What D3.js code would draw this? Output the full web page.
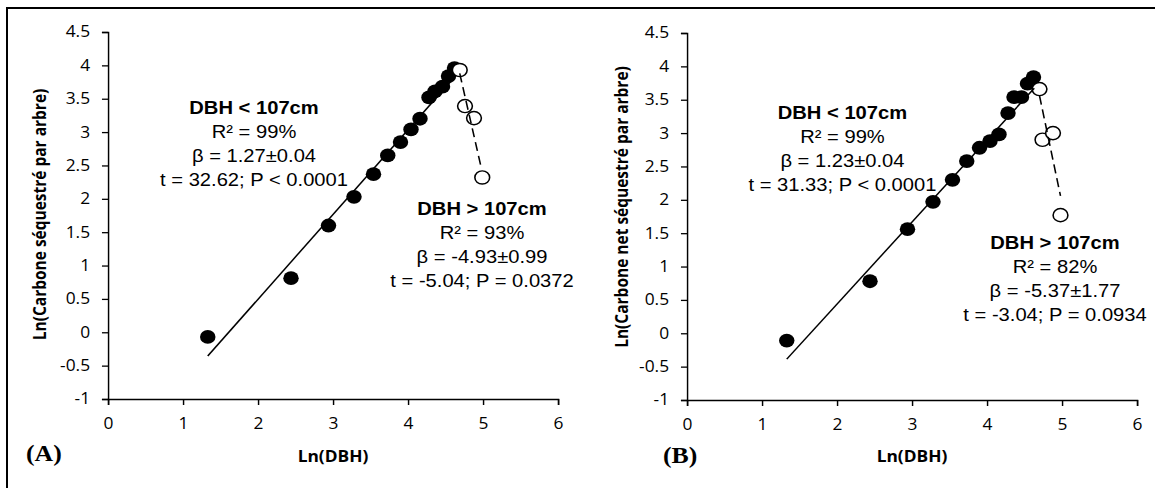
<!DOCTYPE html>
<html>
<head>
<meta charset="utf-8">
<script src="https://cdn.jsdelivr.net/npm/d3@7"></script>
<style>
  html, body { margin: 0; padding: 0; background: #fff; }
  svg { display: block; }
</style>
</head>
<body>
<svg id="chart" width="1155" height="488"></svg>
<script>
// ---------------- data ----------------
const xTicks = [0, 1, 2, 3, 4, 5, 6];
const yTicks = [-1, -0.5, 0, 0.5, 1, 1.5, 2, 2.5, 3, 3.5, 4, 4.5];

const lnDbhSmall   = [1.33, 2.44, 2.94, 3.28, 3.54, 3.73, 3.90, 4.04, 4.16, 4.28, 4.36, 4.46, 4.54, 4.62];
const carbonSmallA = [-0.07, 0.81, 1.60, 2.03, 2.37, 2.65, 2.85, 3.04, 3.20, 3.52, 3.61, 3.68, 3.84, 3.96];
const carbonSmallB = [-0.11, 0.78, 1.56, 1.97, 2.30, 2.58, 2.78, 2.88, 2.98, 3.30, 3.54, 3.54, 3.74, 3.84];

const lnDbhLargeA  = [4.69, 4.76, 4.88, 4.99];
const carbonLargeA = [3.93, 3.39, 3.21, 2.32];
const lnDbhLargeB  = [4.70, 4.74, 4.88, 4.98];
const carbonLargeB = [3.66, 2.90, 3.00, 1.77];

// fitted lines: [intercept, slope], x-range
const fitSmallA = [-2.045, 1.27];
const fitLargeA = [27.0, -4.93];
const fitSmallB = [-2.023, 1.23];
const fitLargeB = [28.8, -5.37];
const rangeSmallA = [1.33, 4.62];
const rangeLargeA = [4.69, 4.98];
const rangeSmallB = [1.33, 4.63];
const rangeLargeB = [4.70, 4.98];

const statsA1 = ["DBH < 107cm", "R² = 99%", "β = 1.27±0.04", "t = 32.62; P < 0.0001"];
const statsA2 = ["DBH > 107cm", "R² = 93%", "β = -4.93±0.99", "t = -5.04; P = 0.0372"];
const statsB1 = ["DBH < 107cm", "R² = 99%", "β = 1.23±0.04", "t = 31.33; P < 0.0001"];
const statsB2 = ["DBH > 107cm", "R² = 82%", "β = -5.37±1.77", "t = -3.04; P = 0.0934"];

const yTitleA = "Ln(Carbone séquestré par arbre)";
const yTitleB = "Ln(Carbone net séquestré par arbre)";
const xTitle = "Ln(DBH)";

// ---------------- layout ----------------
const SX = 1.12; // horizontal stretch of the original figure
const svg = d3.select("#chart");
svg.append("rect").attr("width", 1155).attr("height", 488).attr("fill", "#fff");
svg.append("path").attr("d", "M7,488V8H1155").attr("fill", "none")
  .attr("stroke", "#000").attr("stroke-width", 2);

const root = svg.append("g").attr("transform", `scale(${SX},1)`);

const panels = [
  { tag: "(A)", left: 108, right: 558, top: 32, bottom: 399,
    small: carbonSmallA, xLarge: lnDbhLargeA, large: carbonLargeA,
    fitS: fitSmallA, fitL: fitLargeA, rS: rangeSmallA, rL: rangeLargeA,
    s1: statsA1, s2: statsA2, s1pos: [1.947, 3.273], s2pos: [4.987, 1.759],
    yTitle: yTitleA, yTitleX: 40, yTitleY: 214.5, tagX: 26, tagY: 461 },
  { tag: "(B)", left: 687, right: 1137, top: 33, bottom: 400,
    small: carbonSmallB, xLarge: lnDbhLargeB, large: carbonLargeB,
    fitS: fitSmallB, fitL: fitLargeB, rS: rangeSmallB, rL: rangeLargeB,
    s1: statsB1, s2: statsB2, s1pos: [2.073, 3.213], s2pos: [4.907, 1.264],
    yTitle: yTitleB, yTitleX: 621.7, yTitleY: 207, tagX: 663, tagY: 463 }
];

const tickFont = "'Open Sans', Lato, sans-serif";
const annFont = "'Liberation Sans', Arial, sans-serif";

panels.forEach(p => {
  const x = d3.scaleLinear().domain([0, 6]).range([p.left / SX, p.right / SX]);
  const y = d3.scaleLinear().domain([-1, 4.5]).range([p.bottom, p.top]);
  const g = root.append("g");

  const ax = g.append("g").attr("transform", `translate(0,${y(-1)})`)
    .call(d3.axisBottom(x).tickValues(xTicks).tickFormat(d => String(d))
      .tickSizeOuter(0).tickSize(6).tickPadding(13));
  const ay = g.append("g").attr("transform", `translate(${x(0)},0)`)
    .call(d3.axisLeft(y).tickValues(yTicks).tickFormat(d => String(d))
      .tickSizeOuter(0).tickSize(5.4).tickPadding(10.6));
  [ax, ay].forEach(a => {
    a.selectAll("path, line").attr("stroke", "#000").attr("stroke-width", 1.3);
    a.selectAll("text").attr("font-family", tickFont).attr("font-size", 15.5).attr("fill", "#000");
  });

  // points
  g.selectAll("circle.small").data(lnDbhSmall.map((d, i) => [d, p.small[i]]))
    .enter().append("circle").attr("class", "small")
    .attr("cx", d => x(d[0])).attr("cy", d => y(d[1])).attr("r", 6.9)
    .attr("fill", "#000");
  g.selectAll("circle.large").data(p.xLarge.map((d, i) => [d, p.large[i]]))
    .enter().append("circle").attr("class", "large")
    .attr("cx", d => x(d[0])).attr("cy", d => y(d[1])).attr("r", 6.6)
    .attr("fill", "#fff").attr("stroke", "#000").attr("stroke-width", 1.4);

  // fitted lines
  const line = d3.line().x(d => x(d[0])).y(d => y(d[1]));
  g.append("path").datum(p.rS.map(v => [v, p.fitS[0] + p.fitS[1] * v]))
    .attr("d", line).attr("fill", "none").attr("stroke", "#000").attr("stroke-width", 1.4);
  g.append("path").datum(p.rL.map(v => [v, p.fitL[0] + p.fitL[1] * v]))
    .attr("d", line).attr("fill", "none").attr("stroke", "#000").attr("stroke-width", 1.4)
    .attr("stroke-dasharray", "9,5");

  // annotations
  [[p.s1, p.s1pos], [p.s2, p.s2pos]].forEach(([lines, pos]) => {
    const t = g.append("text").attr("font-family", annFont).attr("font-size", 18)
      .attr("fill", "#000").attr("text-anchor", "middle");
    lines.forEach((s, i) => {
      t.append("tspan").attr("x", x(pos[0])).attr("y", y(pos[1]) + i * 24)
        .attr("font-weight", i === 0 ? "bold" : "normal").text(s);
    });
  });

  // axis titles
  g.append("text").attr("x", (x(0) + x(6)) / 2).attr("y", 462)
    .attr("text-anchor", "middle").attr("font-family", tickFont)
    .attr("font-weight", "bold").attr("font-size", 15.5).attr("fill", "#000").text(xTitle);
  g.append("text")
    .attr("transform", `translate(${p.yTitleX / SX},${p.yTitleY}) rotate(-90)`)
    .attr("text-anchor", "middle").attr("dy", "0.35em").attr("font-family", tickFont)
    .attr("font-weight", "bold").attr("font-size", 15.5).attr("fill", "#000").text(p.yTitle);

  // panel tag
  g.append("text").attr("x", p.tagX / SX).attr("y", p.tagY)
    .attr("font-family", "'Liberation Serif', 'Times New Roman', serif")
    .attr("font-weight", "bold").attr("font-size", 23).attr("fill", "#000").text(p.tag);
});
</script>
</body>
</html>
